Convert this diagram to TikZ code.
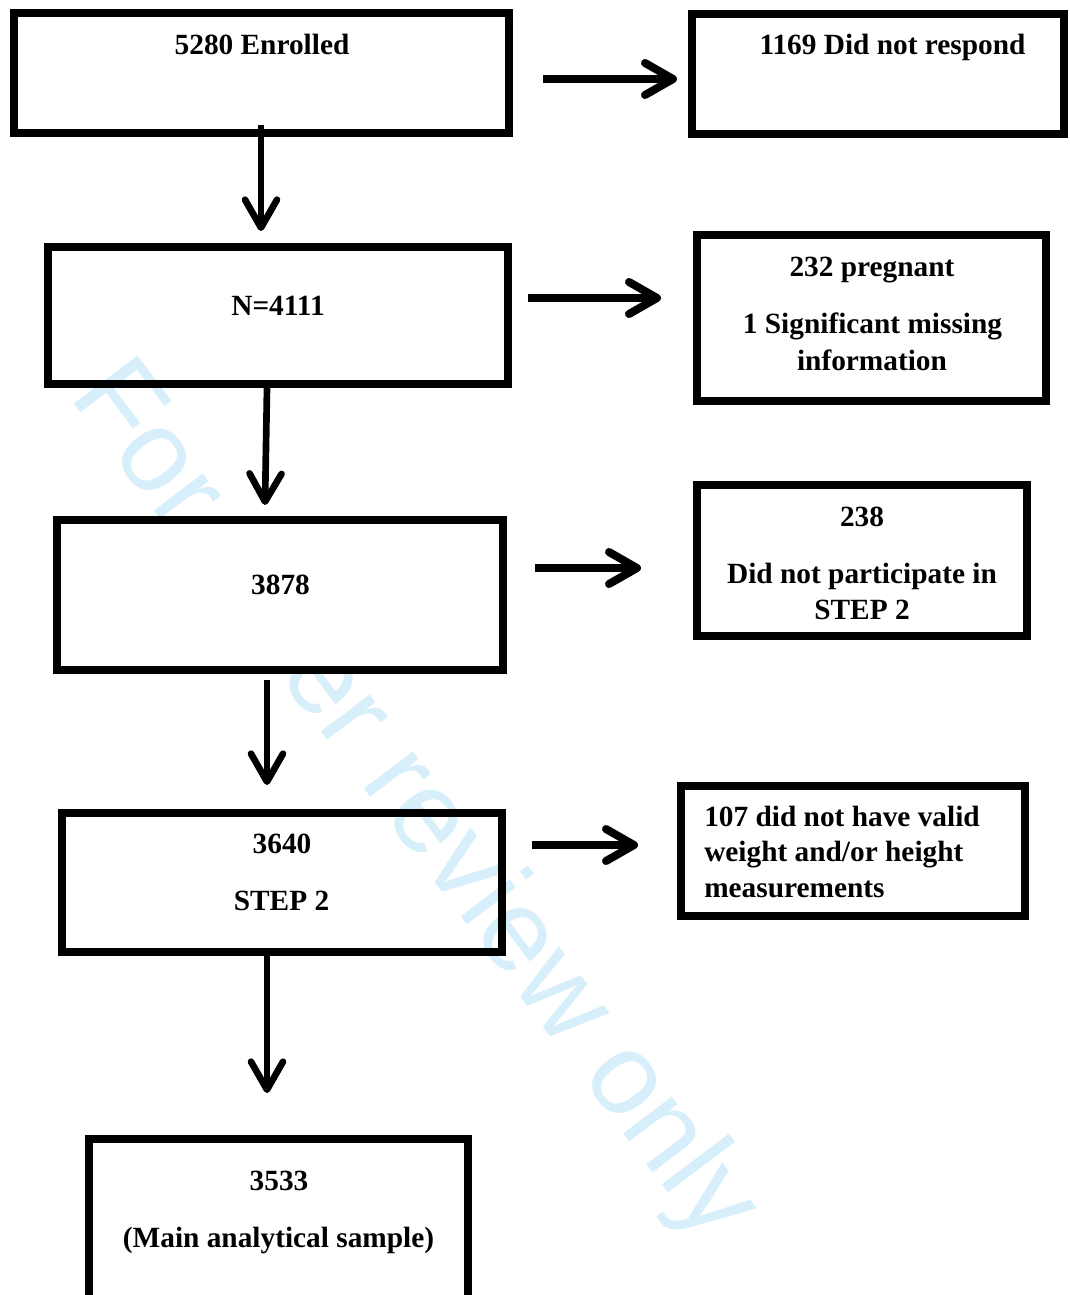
\documentclass[tikz,border=0pt]{standalone}
\usepackage{fontspec}
\setmainfont{Liberation Serif}
\newfontfamily\wmfont{Liberation Sans}
\usetikzlibrary{arrows.meta}
\definecolor{wmblue}{RGB}{214,239,251}
\begin{document}
\begin{tikzpicture}[x=0.75pt,y=-0.75pt,
  box/.style={draw=black, line width=6pt, rectangle, inner sep=0pt, outer sep=0pt},
  txt/.style={font=\fontsize{22}{26}\selectfont\bfseries, inner sep=0pt, anchor=base},
  ltxt/.style={txt, anchor=base west},
  harr/.style={line width=6pt, -{Straight Barb[length=21pt,width=24pt,round]}},
  varr/.style={line width=5pt, -{Straight Barb[length=21pt,width=24pt,round]}},
  wmark/.style={font=\wmfont\fontsize{87}{100}\selectfont, text=wmblue, rotate=-53, anchor=base west, inner sep=0pt}]
\useasboundingbox (0,0) rectangle (1070,1295);
\clip (0,0) rectangle (1070,1295);
\fill[white] (0,0) rectangle (1070,1295);

% watermark
\node[wmark] (wm) at (68,396) {For Peer review only};

% boxes
\node[box, minimum width=371.25pt, minimum height=90pt] (b1) at (261.5,73) {};
\node[box, minimum width=279pt, minimum height=90pt] (b2) at (878,74) {};
\node[box, minimum width=345pt, minimum height=102.75pt] (b3) at (278,315.5) {};
\node[box, minimum width=261.75pt, minimum height=124.5pt] (b4) at (871.5,318) {};
\node[box, fill=white, minimum width=334.5pt, minimum height=112.5pt] (b5) at (280,595) {};
\node[box, minimum width=247.5pt, minimum height=113.25pt] (b6) at (862,560.5) {};
\node[box, minimum width=330pt, minimum height=104.25pt] (b7) at (282,882.5) {};
\node[box, minimum width=258pt, minimum height=97.5pt] (b8) at (853,851) {};
\node[box, minimum width=284.25pt, minimum height=142.5pt] (b9) at (278.5,1234) {};

% horizontal arrows
\draw[harr] ([shift={(34,6)}]b1.east) -- ([shift={(-15,5)}]b2.west);
\draw[harr] ([shift={(20,-17.5)}]b3.east) -- ([shift={(-36,-20)}]b4.west);
\draw[harr] ([shift={(32,-27)}]b5.east) -- ([shift={(-56,7.5)}]b6.west);
\draw[harr] ([shift={(30,-37.5)}]b7.east) -- ([shift={(-43,-6)}]b8.west);

% vertical arrows
\draw[varr] ([shift={(-0.5,-8)}]b1.south) -- ([shift={(-17,-16)}]b3.north);
\draw[varr] ([shift={(-11,4)}]b3.south) -- ([shift={(-15,-15)}]b5.north);
\draw[varr] ([shift={(-13,10)}]b5.south) -- ([shift={(-15,-28)}]b7.north);
\draw[varr] ([shift={(-15,4)}]b7.south) -- ([shift={(-11.5,-46)}]b9.north);

% texts
\node[txt] (t1) at (262,55) {5280 Enrolled};
\node[txt] (t2) at (892.5,55) {1169 Did not respond};
\node[txt] (t3) at (278,315) {N=4111};
\node[txt] (t4a) at (872,276) {232 pregnant};
\node[txt] (t4b) at (872.5,333) {1 Significant missing};
\node[txt] (t4c) at (872,370) {information};
\node[txt] (t5) at (280.5,594) {3878};
\node[txt] (t6a) at (862,526) {238};
\node[txt] (t6b) at (862,583) {Did not participate in};
\node[txt] (t6c) at (862,619) {STEP 2};
\node[txt] (t7a) at (282,853) {3640};
\node[txt] (t7b) at (281.5,910) {STEP 2};
\node[ltxt] (t8a) at (704,826) {107 did not have valid};
\node[ltxt] (t8b) at (704,861) {weight and/or height};
\node[ltxt] (t8c) at (704,897) {measurements};
\node[txt] (t9a) at (279,1190) {3533};
\node[txt] (t9b) at (278.5,1247) {(Main analytical sample)};
\end{tikzpicture}
\end{document}
